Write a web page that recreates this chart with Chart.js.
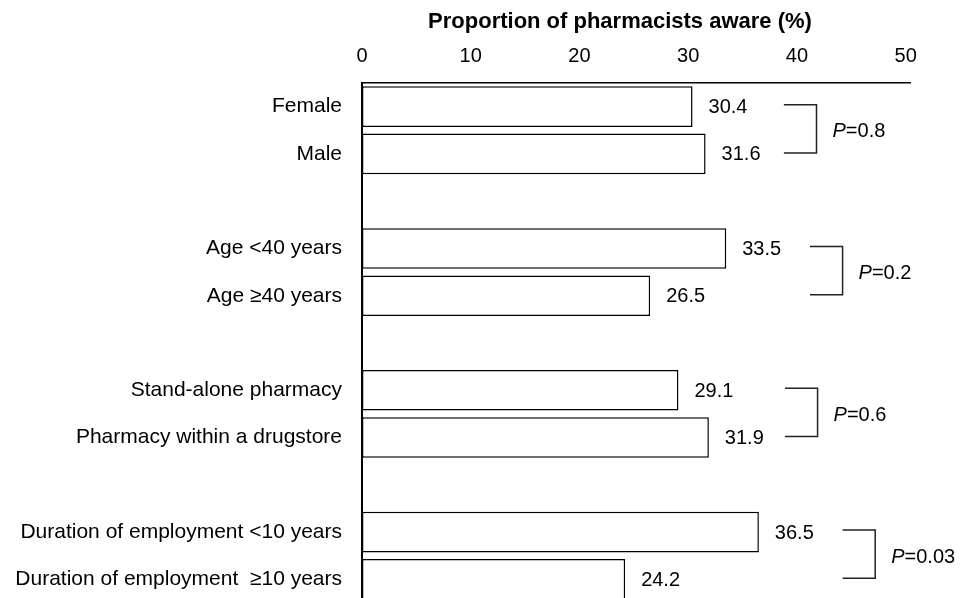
<!DOCTYPE html>
<html>
<head>
<meta charset="utf-8">
<script src="https://cdn.jsdelivr.net/npm/chart.js@4/dist/chart.umd.min.js"></script>
<style>
  html, body { margin: 0; padding: 0; background: #fff; overflow: hidden; }
  #wrap { width: 961px; height: 603px; }
</style>
</head>
<body>
<div id="wrap"><canvas id="awareChart" width="961" height="603"></canvas></div>
<script>
// rows of the chart (empty strings are the gaps between groups)
const categories = [
  "Female", "Male", "",
  "Age <40 years", "Age \u226540 years", "",
  "Stand-alone pharmacy", "Pharmacy within a drugstore", "",
  "Duration of employment <10 years", "Duration of employment  \u226510 years"
];
const awareValues = [30.4, 31.6, null, 33.5, 26.5, null, 29.1, 31.9, null, 36.5, 24.2];
const xTicks = [0, 10, 20, 30, 40, 50];
const pairRows = [[0, 1], [3, 4], [6, 7], [9, 10]];
const pLabels = ["0.8", "0.2", "0.6", "0.03"];
const axisTitle = "Proportion of pharmacists aware (%)";

const FONT = "'Liberation Sans', Arial, sans-serif";

// value written to the right of every bar
const valueLabels = {
  id: "valueLabels",
  afterDatasetsDraw(chart) {
    const ctx = chart.ctx;
    const meta = chart.getDatasetMeta(0);
    ctx.save();
    ctx.font = "20px " + FONT;
    ctx.fillStyle = "#000";
    ctx.textAlign = "left";
    ctx.textBaseline = "middle";
    meta.data.forEach((bar, i) => {
      const v = awareValues[i];
      if (v === null) return;
      ctx.fillText(v.toFixed(1), bar.x + 16, bar.y + 1);
    });
    ctx.restore();
  }
};

// brackets joining each pair with its P value
const pBrackets = {
  id: "pBrackets",
  afterDatasetsDraw(chart, args, opts) {
    const ctx = chart.ctx;
    const xs = chart.scales.x, ys = chart.scales.y;
    ctx.save();
    ctx.strokeStyle = "#222";
    ctx.lineWidth = 1.5;
    pairRows.forEach((pair, i) => {
      const y1 = ys.getPixelForValue(pair[0]) - 2;
      const y2 = ys.getPixelForValue(pair[1]) - 1;
      const x1 = xs.getPixelForValue(opts.start[i]);
      const x2 = xs.getPixelForValue(opts.start[i] + 3);
      ctx.beginPath();
      ctx.moveTo(x1, y1);
      ctx.lineTo(x2, y1);
      ctx.lineTo(x2, y2);
      ctx.lineTo(x1, y2);
      ctx.stroke();

      const ty = (y1 + y2) / 2 + 3;
      let tx = x2 + 16;
      ctx.fillStyle = "#000";
      ctx.textBaseline = "middle";
      ctx.textAlign = "left";
      ctx.font = "italic 20px " + FONT;
      ctx.fillText("P", tx, ty);
      tx += ctx.measureText("P").width;
      ctx.font = "20px " + FONT;
      ctx.fillText("=" + pLabels[i], tx, ty);
    });
    ctx.restore();
  }
};

// bold axis title above the top axis, sitting a little left of centre
const topTitle = {
  id: "topTitle",
  afterDraw(chart) {
    const ctx = chart.ctx;
    const xs = chart.scales.x;
    ctx.save();
    ctx.font = "bold 22px " + FONT;
    ctx.fillStyle = "#000";
    ctx.textAlign = "center";
    ctx.textBaseline = "middle";
    ctx.fillText(axisTitle, (xs.left + xs.right) / 2 - 16, 22);
    ctx.restore();
  }
};

new Chart(document.getElementById("awareChart"), {
  type: "bar",
  data: {
    labels: categories,
    datasets: [{
      data: awareValues,
      backgroundColor: "#fff",
      borderColor: "#000",
      borderWidth: 1.5,
      borderSkipped: false,
      categoryPercentage: 1,
      barPercentage: 0.86
    }]
  },
  options: {
    indexAxis: "y",
    responsive: false,
    devicePixelRatio: 1,
    animation: false,
    layout: { padding: { left: 0, right: 51, top: 0, bottom: 0 } },
    plugins: {
      legend: { display: false },
      tooltip: { enabled: false },
      pBrackets: { start: [38.8, 41.2, 38.9, 44.2] }
    },
    scales: {
      x: {
        position: "top",
        min: 0,
        max: 50.4,
        afterBuildTicks: (scale) => {
          scale.ticks = xTicks.map(v => ({ value: v }));
        },
        afterFit: (scale) => {
          scale.height = 83;
          scale.paddingLeft = 0;
          scale.paddingRight = 0;
        },
        grid: { display: false },
        border: { display: true, color: "#000", width: 1.5 },
        ticks: { color: "#000", padding: 7, font: { family: FONT, size: 20 } }
      },
      y: {
        afterFit: (scale) => {
          scale.width = 362;
          scale.paddingTop = 0;
          scale.paddingBottom = 0;
        },
        grid: { display: false },
        border: { display: true, color: "#000", width: 2 },
        ticks: { color: "#000", padding: 12, autoSkip: false, font: { family: FONT, size: 21 } }
      }
    }
  },
  plugins: [valueLabels, pBrackets, topTitle]
});
</script>
</body>
</html>
